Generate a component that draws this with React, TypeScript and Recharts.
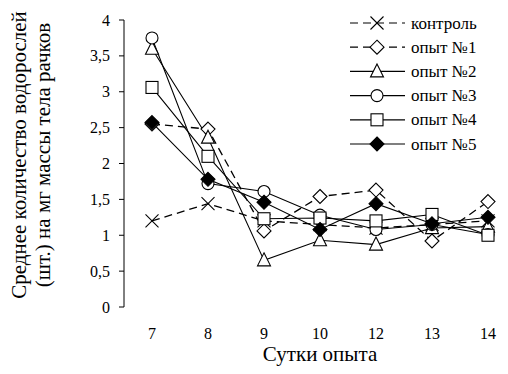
import React from 'react';
import { LineChart, Line, XAxis, YAxis, Legend } from 'recharts';

const days = ['7', '8', '9', '10', '12', '13', '14'];
const control = [1.2, 1.44, 1.2, 1.15, 1.1, 1.15, 1.2];
const exp1 = [2.55, 2.48, 1.06, 1.54, 1.63, 0.92, 1.47];
const exp2 = [3.6, 2.36, 0.65, 0.93, 0.87, 1.1, 1.12];
const exp3 = [3.75, 1.72, 1.61, 1.28, 1.08, 1.15, 1.01];
const exp4 = [3.06, 2.1, 1.23, 1.24, 1.2, 1.29, 1.0];
const exp5 = [2.57, 1.78, 1.46, 1.08, 1.44, 1.16, 1.25];
const yTicks = [0, 0.5, 1, 1.5, 2, 2.5, 3, 3.5, 4];
const boundaryTicks = [0, 1, 2, 3, 4, 5, 6, 7];

const data = days.map((day, i) => ({
    day,
    control: control[i],
    exp1: exp1[i],
    exp2: exp2[i],
    exp3: exp3[i],
    exp4: exp4[i],
    exp5: exp5[i],
}));

const FONT = 'Liberation Serif, DejaVu Serif, serif';
const DASH = '8 5';

type Kind = 'cross' | 'diamond' | 'triangle' | 'circle' | 'square' | 'filledDiamond';

const Marker = ({ kind, cx, cy }: { kind: Kind; cx: number; cy: number }) => {
    const s = 6.5;
    switch (kind) {
        case 'cross':
            return (
                <g stroke="#000" strokeWidth={1.1}>
                    <line x1={cx - s} y1={cy - s} x2={cx + s} y2={cy + s} />
                    <line x1={cx - s} y1={cy + s} x2={cx + s} y2={cy - s} />
                </g>
            );
        case 'diamond':
        case 'filledDiamond':
            return (
                <polygon
                    points={`${cx},${cy - s - 0.5} ${cx + s + 0.5},${cy} ${cx},${cy + s + 0.5} ${cx - s - 0.5},${cy}`}
                    fill={kind === 'filledDiamond' ? '#000' : '#fff'}
                    stroke="#000"
                    strokeWidth={1.1}
                />
            );
        case 'triangle':
            return (
                <polygon
                    points={`${cx},${cy - s - 1} ${cx + s},${cy + s - 1} ${cx - s},${cy + s - 1}`}
                    fill="#fff"
                    stroke="#000"
                    strokeWidth={1.1}
                />
            );
        case 'circle':
            return <circle cx={cx} cy={cy} r={6} fill="#fff" stroke="#000" strokeWidth={1.1} />;
        case 'square':
            return <rect x={cx - 6} y={cy - 6} width={12} height={12} fill="#fff" stroke="#000" strokeWidth={1.1} />;
    }
    return null;
};

const makeDot = (kind: Kind) => (props: any) => {
    const { cx, cy, index } = props;
    if (cx == null || cy == null) return <g key={index} />;
    return <Marker key={index} kind={kind} cx={cx} cy={cy} />;
};

const series: { key: string; name: string; kind: Kind; dashed: boolean }[] = [
    { key: 'control', name: 'контроль', kind: 'cross', dashed: true },
    { key: 'exp1', name: 'опыт №1', kind: 'diamond', dashed: true },
    { key: 'exp2', name: 'опыт №2', kind: 'triangle', dashed: false },
    { key: 'exp3', name: 'опыт №3', kind: 'circle', dashed: false },
    { key: 'exp4', name: 'опыт №4', kind: 'square', dashed: false },
    { key: 'exp5', name: 'опыт №5', kind: 'filledDiamond', dashed: false },
];

const LegendBox = () => (
    <svg width={150} height={150} style={{ display: 'block' }}>
        {series.map((s, i) => {
            const y = 11 + i * 24.2;
            return (
                <g key={s.key}>
                    <line x1={0} y1={y} x2={55} y2={y} stroke="#000" strokeWidth={1.2} strokeDasharray={s.dashed ? DASH : undefined} />
                    <Marker kind={s.kind} cx={27} cy={y} />
                    <text x={61} y={y} dominantBaseline="central" fontFamily={FONT} fontSize={17} fill="#000">
                        {s.name}
                    </text>
                </g>
            );
        })}
    </svg>
);

const YTitle = () => (
    <g fontFamily={FONT} fontSize={21} fill="#000">
        <text transform="translate(19,155) rotate(-90)" textAnchor="middle" dominantBaseline="central">
            Среднее количество водорослей
        </text>
        <text transform="translate(43,155) rotate(-90)" textAnchor="middle" dominantBaseline="central">
            (шт.) на мг массы тела рачков
        </text>
    </g>
);

const XTick = (props: any) => {
    const { x, y, payload } = props;
    return (
        <text x={x} y={y + 12} textAnchor="middle" dominantBaseline="central" fontFamily={FONT} fontSize={16} fill="#000">
            {payload.value}
        </text>
    );
};

const YTick = (props: any) => {
    const { x, y, payload } = props;
    return (
        <text x={x} y={y} textAnchor="end" dominantBaseline="central" fontFamily={FONT} fontSize={16} fill="#000">
            {String(payload.value).replace('.', ',')}
        </text>
    );
};

export default function App() {
    return (
        <div style={{ position: 'absolute', left: 0, top: 0, width: 508, height: 374, overflow: 'hidden', background: '#fff', fontFamily: FONT }}>
            <LineChart width={520} height={374} data={data} margin={{ top: 20, right: 4, left: 0, bottom: 0 }}>
                <XAxis
                    xAxisId="ticks"
                    type="number"
                    domain={[0, 7]}
                    allowDataOverflow
                    ticks={boundaryTicks}
                    tick={() => <g />}
                    tickSize={5}
                    height={0}
                    stroke="#000"
                />
                <XAxis
                    xAxisId="cat"
                    dataKey="day"
                    height={67}
                    padding={{ left: 28, right: 28 }}
                    axisLine={false}
                    tickLine={false}
                    tickMargin={8}
                    tick={XTick}
                    label={{ value: 'Сутки опыта', position: 'insideBottom', offset: 13, fontFamily: FONT, fontSize: 21, fill: '#000' }}
                />
                <YAxis
                    domain={[0, 4]}
                    ticks={yTicks}
                    interval={0}
                    width={124}
                    tickSize={5}
                    tickMargin={9}
                    stroke="#000"
                    tick={YTick}
                    label={{ content: YTitle }}
                />
                <Legend
                    content={LegendBox}
                    layout="horizontal"
                    verticalAlign="middle"
                    align="center"
                    wrapperStyle={{ left: 350, top: 12, width: 150 }}
                />
                {series.map((s) => (
                    <Line
                        key={s.key}
                        xAxisId="cat"
                        dataKey={s.key}
                        name={s.name}
                        stroke="#000"
                        strokeWidth={s.dashed ? 1.3 : 1.1}
                        strokeDasharray={s.dashed ? DASH : undefined}
                        dot={makeDot(s.kind)}
                        activeDot={false}
                        isAnimationActive={false}
                    />
                ))}
            </LineChart>
        </div>
    );
}
